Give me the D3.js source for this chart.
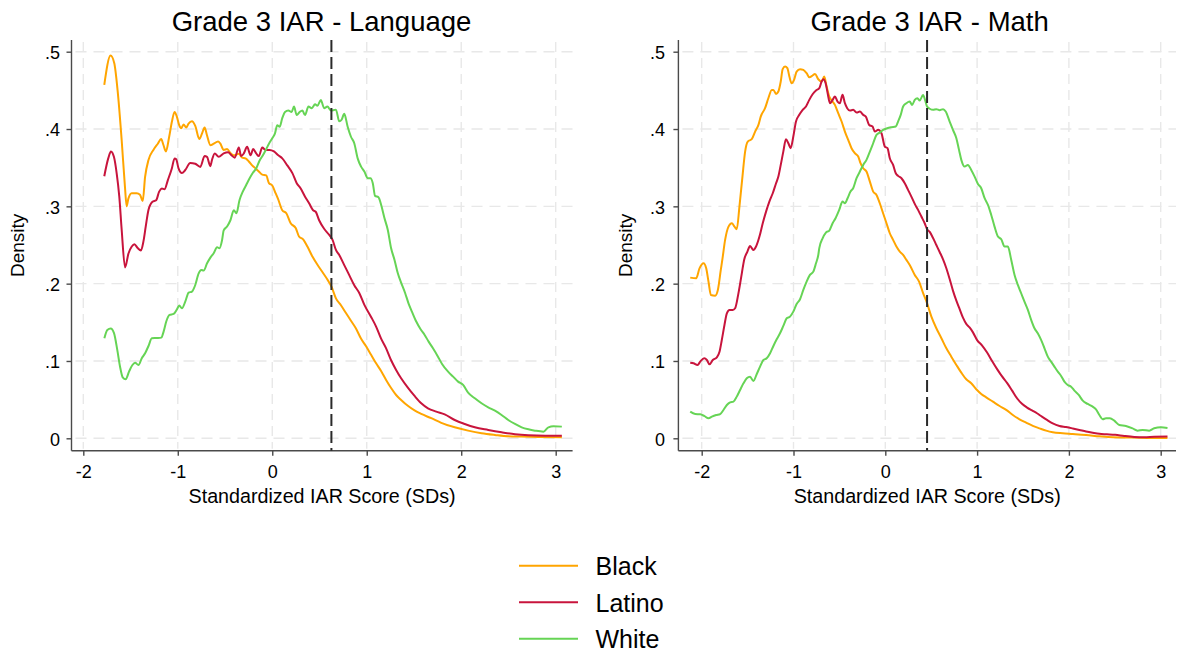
<!DOCTYPE html>
<html>
<head>
<meta charset="utf-8">
<script src="https://cdn.jsdelivr.net/npm/d3@7"></script>
<style>
  body { margin: 0; background: #fff; }
  svg { display: block; }
  text { font-family: "Liberation Sans", Arial, sans-serif; fill: #000; }
</style>
</head>
<body>
<svg id="chart" width="1179" height="653"></svg>
<script>
// Groups and their line colours
const groups = ["Black", "Latino", "White"];
const groupColors = ["#ffa500", "#c8143c", "#66d455"];

// Axis ticks
const xTicks = [-2, -1, 0, 1, 2, 3];
const xTickLabels = ["-2", "-1", "0", "1", "2", "3"];
const yTicks = [0, 0.1, 0.2, 0.3, 0.4, 0.5];
const yTickLabels = ["0", ".1", ".2", ".3", ".4", ".5"];

// Panel titles and proficiency cut scores (SDs)
const panelTitles = ["Grade 3 IAR - Language", "Grade 3 IAR - Math"];
const cutScores = [0.626, 0.455];

// Kernel density estimates: [standardized score, density]
const langBlack = [[-1.778,.457],[-1.711,.495],[-1.672,.485],[-1.637,.450],[-1.594,.386],[-1.559,.325],[-1.541,.300],[-1.523,.310],[-1.488,.317],[-1.435,.317],[-1.400,.315],[-1.371,.307],[-1.346,.338],[-1.310,.360],[-1.258,.373],[-1.211,.381],[-1.176,.387],[-1.151,.379],[-1.126,.371],[-1.091,.390],[-1.063,.409],[-1.034,.422],[-1.010,.416],[-0.985,.405],[-0.964,.401],[-0.939,.406],[-0.910,.402],[-0.886,.407],[-0.850,.410],[-0.815,.404],[-0.772,.387],[-0.744,.394],[-0.716,.402],[-0.691,.392],[-0.655,.379],[-0.620,.381],[-0.574,.384],[-0.549,.381],[-0.514,.373],[-0.478,.374],[-0.443,.369],[-0.407,.366],[-0.354,.368],[-0.319,.363],[-0.283,.362],[-0.248,.358],[-0.213,.353],[-0.177,.349],[-0.142,.345],[-0.106,.341],[-0.064,.340],[-0.035,.330],[0,.327],[0.035,.317],[0.060,.310],[0.106,.295],[0.149,.291],[0.195,.278],[0.248,.272],[0.283,.261],[0.329,.257],[0.372,.248],[0.425,.235],[0.514,.218],[0.585,.205],[0.627,.196],[0.674,.181],[0.727,.172],[0.780,.162],[0.833,.152],[0.886,.142],[0.939,.129],[0.993,.119],[1.046,.108],[1.099,.097],[1.152,.087],[1.205,.0755],[1.258,.065],[1.311,.056],[1.364,.0496],[1.435,.042],[1.506,.036],[1.577,.0315],[1.683,.026],[1.789,.020],[1.931,.0142],[2.073,.0099],[2.215,.0065],[2.357,.0043],[2.499,.0026],[2.640,.0022],[2.817,.0017],[3.065,.0013]];

const langLatino = [[-1.778,.339],[-1.736,.362],[-1.707,.371],[-1.676,.364],[-1.647,.343],[-1.619,.3125],[-1.594,.270],[-1.558,.221],[-1.522,.239],[-1.487,.248],[-1.459,.251],[-1.424,.246],[-1.390,.243],[-1.363,.255],[-1.339,.274],[-1.311,.295],[-1.268,.306],[-1.229,.308],[-1.197,.319],[-1.169,.323],[-1.141,.322],[-1.105,.334],[-1.063,.349],[-1.034,.362],[-1.017,.361],[-0.992,.349],[-0.956,.343],[-0.921,.347],[-0.868,.356],[-0.815,.355],[-0.762,.351],[-0.716,.365],[-0.691,.364],[-0.655,.352],[-0.638,.360],[-0.609,.3685],[-0.567,.364],[-0.514,.3685],[-0.468,.370],[-0.432,.366],[-0.397,.363],[-0.354,.376],[-0.329,.365],[-0.301,.3685],[-0.266,.377],[-0.230,.366],[-0.202,.374],[-0.170,.3685],[-0.142,.365],[-0.106,.376],[-0.071,.373],[-0.028,.373],[0.018,.371],[0.064,.366],[0.106,.362],[0.159,.353],[0.213,.343],[0.259,.330],[0.301,.323],[0.347,.3125],[0.390,.304],[0.432,.295],[0.460,.293],[0.496,.282],[0.549,.271],[0.603,.263],[0.638,.2566],[0.674,.2436],[0.709,.237],[0.762,.224],[0.815,.211],[0.868,.198],[0.922,.1876],[0.975,.1725],[1.046,.157],[1.099,.1445],[1.152,.129],[1.205,.1164],[1.258,.101],[1.311,.0884],[1.364,.0776],[1.435,.0655],[1.506,.0548],[1.577,.0453],[1.648,.0388],[1.736,.0345],[1.825,.031],[1.931,.0237],[2.037,.0185],[2.144,.0142],[2.286,.0108],[2.427,.0078],[2.569,.0052],[2.711,.0039],[2.888,.0034],[3.065,.0034]];

const langWhite = [[-1.777,.1293],[-1.746,.140],[-1.710,.142],[-1.675,.136],[-1.640,.114],[-1.611,.0926],[-1.583,.0789],[-1.551,.0763],[-1.516,.0862],[-1.480,.0948],[-1.452,.0978],[-1.416,.0948],[-1.381,.1035],[-1.346,.1099],[-1.310,.1194],[-1.275,.1293],[-1.221,.1297],[-1.175,.1302],[-1.150,.138],[-1.122,.151],[-1.087,.1595],[-1.044,.1608],[-1.009,.1668],[-0.984,.1716],[-0.956,.1681],[-0.921,.1767],[-0.885,.1884],[-0.850,.1897],[-0.815,.1983],[-0.779,.2134],[-0.751,.2178],[-0.726,.2169],[-0.690,.2263],[-0.655,.2337],[-0.620,.2393],[-0.584,.2471],[-0.559,.2458],[-0.531,.2565],[-0.514,.269],[-0.478,.274],[-0.443,.282],[-0.407,.295],[-0.379,.291],[-0.347,.308],[-0.312,.319],[-0.276,.3276],[-0.241,.336],[-0.205,.3435],[-0.170,.349],[-0.135,.359],[-0.099,.366],[-0.064,.374],[-0.035,.381],[0,.388],[0.028,.394],[0.053,.405],[0.078,.403],[0.106,.414],[0.135,.422],[0.170,.424],[0.205,.422],[0.230,.429],[0.259,.418],[0.290,.422],[0.319,.424],[0.347,.418],[0.383,.429],[0.418,.427],[0.453,.432],[0.478,.430],[0.514,.4375],[0.549,.427],[0.584,.429],[0.620,.424],[0.655,.4246],[0.674,.425],[0.709,.410],[0.734,.412],[0.762,.4196],[0.798,.403],[0.833,.390],[0.868,.3816],[0.904,.362],[0.940,.3514],[0.975,.345],[1.010,.3364],[1.039,.3364],[1.064,.330],[1.088,.3135],[1.124,.3118],[1.152,.302],[1.188,.2846],[1.223,.2695],[1.258,.2458],[1.294,.2307],[1.329,.2134],[1.364,.2014],[1.407,.1876],[1.442,.1746],[1.478,.1639],[1.524,.151],[1.570,.141],[1.613,.1337],[1.655,.125],[1.701,.1164],[1.754,.1056],[1.797,.0962],[1.861,.0862],[1.914,.0798],[1.967,.0733],[2.020,.069],[2.073,.0591],[2.144,.0517],[2.215,.0453],[2.286,.0401],[2.357,.0358],[2.427,.0302],[2.498,.0237],[2.569,.0185],[2.640,.0142],[2.711,.0116],[2.781,.0099],[2.870,.0086],[2.923,.0142],[2.976,.0155],[3.065,.0151]];

const mathBlack = [[-2.125,.2078],[-2.060,.207],[-2.024,.2198],[-1.980,.2264],[-1.951,.2198],[-1.926,.2026],[-1.900,.1854],[-1.853,.1845],[-1.824,.1918],[-1.792,.2177],[-1.774,.232],[-1.745,.2566],[-1.708,.2738],[-1.672,.278],[-1.643,.2738],[-1.618,.2704],[-1.589,.2997],[-1.556,.3385],[-1.527,.3708],[-1.498,.3838],[-1.455,.3868],[-1.418,.3967],[-1.382,.4053],[-1.357,.4161],[-1.310,.4269],[-1.274,.4398],[-1.237,.4506],[-1.219,.4506],[-1.190,.4454],[-1.165,.4485],[-1.139,.4614],[-1.118,.4774],[-1.092,.4808],[-1.067,.4787],[-1.045,.4679],[-1.020,.4592],[-0.994,.4636],[-0.966,.4743],[-0.929,.4774],[-0.893,.4765],[-0.857,.4722],[-0.828,.467],[-0.792,.4692],[-0.766,.4713],[-0.730,.4644],[-0.694,.4614],[-0.665,.4679],[-0.639,.455],[-0.610,.442],[-0.574,.4355],[-0.549,.4312],[-0.513,.4204],[-0.476,.4097],[-0.440,.3967],[-0.404,.3859],[-0.368,.3752],[-0.332,.3687],[-0.295,.3644],[-0.270,.3558],[-0.241,.3493],[-0.205,.345],[-0.168,.332],[-0.132,.319],[-0.096,.3148],[-0.060,.304],[-0.024,.2911],[0.013,.2781],[0.049,.2652],[0.085,.2566],[0.121,.248],[0.158,.2415],[0.194,.2372],[0.230,.2307],[0.266,.2242],[0.321,.2113],[0.368,.2026],[0.411,.188],[0.447,.1775],[0.502,.1574],[0.556,.1423],[0.611,.1294],[0.665,.1164],[0.719,.1056],[0.774,.0949],[0.828,.0849],[0.882,.0763],[0.936,.0712],[0.991,.0634],[1.045,.0574],[1.099,.053],[1.172,.0474],[1.245,.0418],[1.317,.0367],[1.389,.0302],[1.462,.0246],[1.534,.0203],[1.607,.016],[1.679,.0129],[1.752,.0099],[1.824,.0078],[1.933,.0065],[2.042,.0056],[2.187,.0043],[2.332,.0026],[2.476,.0013],[2.694,.0009],[2.911,.0004],[3.074,.0004]];

const mathLatino = [[-2.125,.0978],[-2.089,.097],[-2.045,.0948],[-2.016,.0991],[-1.973,.1035],[-1.944,.1013],[-1.915,.0957],[-1.879,.1013],[-1.835,.1047],[-1.806,.112],[-1.781,.1272],[-1.752,.1466],[-1.726,.1617],[-1.697,.166],[-1.661,.166],[-1.636,.1682],[-1.600,.1875],[-1.563,.2134],[-1.538,.2307],[-1.502,.2415],[-1.473,.2488],[-1.437,.2436],[-1.408,.248],[-1.371,.2609],[-1.335,.2781],[-1.299,.2932],[-1.263,.3062],[-1.226,.3169],[-1.190,.3299],[-1.165,.3385],[-1.139,.3536],[-1.111,.3708],[-1.082,.3868],[-1.056,.3816],[-1.031,.3752],[-1.002,.3903],[-0.973,.4097],[-0.937,.4183],[-0.900,.4248],[-0.864,.4291],[-0.828,.4377],[-0.792,.445],[-0.755,.4498],[-0.719,.4528],[-0.694,.4614],[-0.676,.4644],[-0.650,.4592],[-0.628,.4463],[-0.603,.4334],[-0.574,.4377],[-0.549,.442],[-0.520,.4355],[-0.495,.4334],[-0.466,.4442],[-0.440,.4334],[-0.415,.4269],[-0.386,.4239],[-0.350,.4248],[-0.313,.4213],[-0.277,.4226],[-0.241,.4183],[-0.212,.4161],[-0.176,.4053],[-0.139,.4032],[-0.114,.3967],[-0.078,.3989],[-0.042,.3946],[-0.005,.3773],[0.024,.3752],[0.049,.3622],[0.085,.3536],[0.114,.3428],[0.139,.3394],[0.176,.3363],[0.212,.3299],[0.248,.3213],[0.284,.3126],[0.321,.3032],[0.357,.2954],[0.393,.2868],[0.429,.2781],[0.455,.2704],[0.484,.267],[0.520,.259],[0.556,.250],[0.592,.241],[0.629,.2315],[0.665,.220],[0.701,.206],[0.737,.191],[0.774,.178],[0.810,.167],[0.846,.156],[0.882,.148],[0.918,.1434],[0.955,.137],[1.000,.127],[1.055,.120],[1.109,.111],[1.163,.100],[1.218,.0895],[1.272,.080],[1.326,.0716],[1.380,.062],[1.435,.0518],[1.489,.0446],[1.544,.0397],[1.598,.036],[1.652,.0324],[1.706,.028],[1.761,.0238],[1.824,.0194],[1.897,.016],[1.969,.0145],[2.042,.0127],[2.114,.0108],[2.187,.0088],[2.259,.0072],[2.332,.0058],[2.413,.0052],[2.504,.0045],[2.603,.003],[2.712,.0018],[2.820,.0015],[2.930,.002],[3.074,.0022]];

const mathWhite = [[-2.125,.0345],[-2.071,.0314],[-2.016,.031],[-1.973,.0289],[-1.926,.0258],[-1.889,.028],[-1.842,.0301],[-1.799,.0314],[-1.763,.0366],[-1.726,.0431],[-1.690,.0465],[-1.654,.0474],[-1.618,.0539],[-1.582,.0625],[-1.545,.0711],[-1.509,.0776],[-1.473,.0797],[-1.437,.0741],[-1.400,.0832],[-1.364,.0927],[-1.328,.1013],[-1.292,.1035],[-1.255,.110],[-1.219,.1194],[-1.183,.128],[-1.147,.1358],[-1.111,.1453],[-1.074,.1552],[-1.038,.1574],[-1.002,.1638],[-0.966,.1737],[-0.929,.1798],[-0.893,.1919],[-0.857,.2026],[-0.821,.2113],[-0.784,.2156],[-0.755,.2263],[-0.730,.2371],[-0.719,.246],[-0.683,.2587],[-0.647,.2661],[-0.610,.2687],[-0.574,.2781],[-0.542,.2846],[-0.502,.2954],[-0.466,.3062],[-0.440,.304],[-0.411,.3105],[-0.379,.3191],[-0.350,.3234],[-0.313,.3364],[-0.277,.345],[-0.241,.3536],[-0.205,.3601],[-0.168,.3708],[-0.132,.3816],[-0.096,.3924],[-0.060,.3954],[-0.024,.3989],[0.020,.401],[0.067,.4023],[0.114,.4032],[0.139,.4097],[0.168,.4183],[0.194,.4291],[0.230,.4334],[0.266,.4355],[0.292,.4312],[0.321,.4377],[0.350,.4398],[0.375,.4368],[0.411,.4441],[0.433,.4377],[0.455,.4291],[0.484,.4262],[0.520,.4248],[0.556,.4256],[0.592,.4244],[0.629,.4256],[0.658,.4226],[0.701,.4097],[0.737,.3989],[0.774,.3881],[0.803,.373],[0.828,.3601],[0.864,.3514],[0.900,.3536],[0.936,.3471],[0.973,.3385],[1.009,.329],[1.045,.3234],[1.082,.3105],[1.118,.3019],[1.154,.2889],[1.190,.2738],[1.227,.2609],[1.263,.2574],[1.299,.248],[1.335,.248],[1.372,.2307],[1.408,.2113],[1.444,.1984],[1.480,.1876],[1.516,.1768],[1.553,.166],[1.589,.1531],[1.625,.1423],[1.661,.1358],[1.697,.1272],[1.734,.1164],[1.770,.1056],[1.806,.0992],[1.842,.0927],[1.879,.0862],[1.915,.0806],[1.951,.0733],[1.987,.069],[2.024,.0668],[2.060,.0617],[2.107,.0561],[2.151,.0487],[2.205,.0444],[2.259,.041],[2.295,.0375],[2.332,.0302],[2.368,.0246],[2.404,.0259],[2.447,.0259],[2.494,.0229],[2.549,.0172],[2.621,.016],[2.694,.0129],[2.748,.0099],[2.803,.0108],[2.875,.0099],[2.929,.0129],[3.002,.0142],[3.074,.0134]];

const panelSeries = [
  [langBlack, langLatino, langWhite],
  [mathBlack, mathLatino, mathWhite]
];

const svg = d3.select("#chart");

// Panel frames (pixel geometry of each plot region)
const frames = [
  { axisLeft: 71.5, axisRight: 572.6, x0: 83.3, x1: 555.7, titleX: 321.5, yTitleX: 24, tickRight: 60 },
  { axisLeft: 678.4, axisRight: 1176, x0: 701.7, x1: 1160.7, titleX: 929.6, yTitleX: 632, tickRight: 665 }
];
const plotTop = 40, axisBottom = 450.7;

frames.forEach((f, i) => {
  const x = d3.scaleLinear().domain([-2, 3]).range([f.x0, f.x1]);
  const y = d3.scaleLinear().domain([0, 0.5]).range([438.3, 51.7]);
  const g = svg.append("g");

  // Grid
  g.append("g").selectAll("line").data(yTicks).join("line")
    .attr("x1", f.axisLeft + 4).attr("x2", f.axisRight)
    .attr("y1", d => y(d)).attr("y2", d => y(d))
    .attr("stroke", "#e8e8e8").attr("stroke-width", 1.4)
    .attr("stroke-dasharray", "11,7");
  g.append("g").selectAll("line").data(xTicks).join("line")
    .attr("x1", d => x(d)).attr("x2", d => x(d))
    .attr("y1", plotTop + 2).attr("y2", axisBottom - 2)
    .attr("stroke", "#e8e8e8").attr("stroke-width", 1.4)
    .attr("stroke-dasharray", "10,6");

  // Y axis
  const yAxis = d3.axisLeft(y).tickValues(yTicks)
    .tickFormat((d, k) => yTickLabels[k]).tickSize(5).tickPadding(4);
  const ya = g.append("g").attr("transform", `translate(${f.axisLeft},0)`).call(yAxis);
  ya.select(".domain").attr("d", `M0,${plotTop}V${axisBottom}`).attr("stroke", "#4a4a4a").attr("stroke-width", 1.4);
  ya.selectAll(".tick line").attr("stroke", "#4a4a4a").attr("stroke-width", 1.4);
  ya.selectAll(".tick text")
    .attr("x", f.tickRight - f.axisLeft).attr("dy", "0.38em")
    .style("font-size", "18px").style("font-family", '"Liberation Sans", Arial, sans-serif').attr("fill", "#000");

  // X axis
  const xAxis = d3.axisBottom(x).tickValues(xTicks)
    .tickFormat((d, k) => xTickLabels[k]).tickSize(5).tickPadding(10);
  const xa = g.append("g").attr("transform", `translate(0,${axisBottom})`).call(xAxis);
  xa.select(".domain").attr("d", `M${f.axisLeft},0H${f.axisRight}`).attr("stroke", "#4a4a4a").attr("stroke-width", 1.4);
  xa.selectAll(".tick line").attr("stroke", "#4a4a4a").attr("stroke-width", 1.4);
  xa.selectAll(".tick text")
    .style("font-size", "18px").style("font-family", '"Liberation Sans", Arial, sans-serif').attr("fill", "#000");

  // Density curves
  const line = d3.line().x(d => x(d[0])).y(d => y(d[1])).curve(d3.curveMonotoneX);
  panelSeries[i].forEach((s, k) => {
    g.append("path").datum(s).attr("d", line)
      .attr("fill", "none").attr("stroke", groupColors[k])
      .attr("stroke-width", 2).attr("stroke-linejoin", "round");
  });

  // Cut score reference line
  g.append("line")
    .attr("x1", x(cutScores[i])).attr("x2", x(cutScores[i]))
    .attr("y1", plotTop).attr("y2", axisBottom)
    .attr("stroke", "#2a2a2a").attr("stroke-width", 2)
    .attr("stroke-dasharray", "12,5");

  // Titles
  g.append("text").attr("x", f.titleX).attr("y", 30.5)
    .attr("text-anchor", "middle").style("font-size", "27.5px").text(panelTitles[i]);
  g.append("text").attr("x", (f.axisLeft + f.axisRight) / 2).attr("y", 503)
    .attr("text-anchor", "middle").style("font-size", "19.7px").text("Standardized IAR Score (SDs)");
  g.append("text")
    .attr("transform", `translate(${f.yTitleX},${(plotTop + axisBottom) / 2}) rotate(-90)`)
    .attr("text-anchor", "middle").style("font-size", "19px").text("Density");
});

// Legend
const legendY = d3.scalePoint().domain(groups).range([565.7, 638.7]);
const legend = svg.append("g");
groups.forEach((name, k) => {
  legend.append("line")
    .attr("x1", 519).attr("x2", 578)
    .attr("y1", legendY(name)).attr("y2", legendY(name))
    .attr("stroke", groupColors[k]).attr("stroke-width", 2);
  legend.append("text").attr("x", 595.5).attr("y", legendY(name) + 9.5)
    .style("font-size", "25px").text(name);
});
</script>
</body>
</html>
